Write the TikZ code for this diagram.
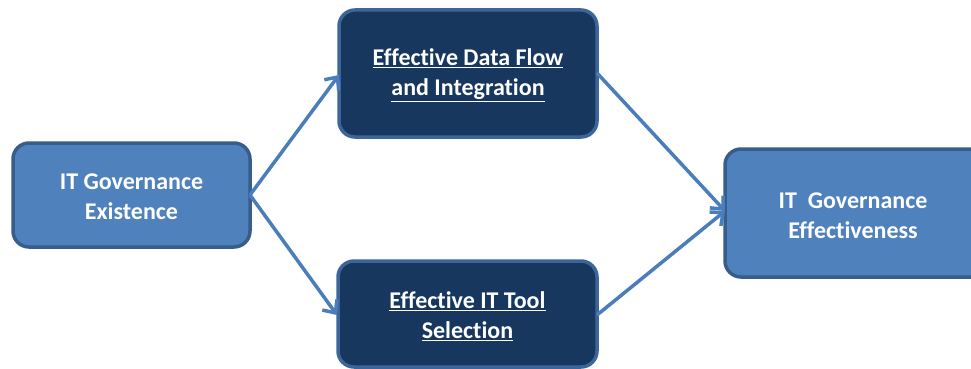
\documentclass[tikz,border=0pt]{standalone}
\usepackage{fontspec}
\setmainfont{Carlito}[Ligatures=NoCommon,RawFeature={-liga}]
\usetikzlibrary{arrows.meta}
\definecolor{lightfill}{HTML}{4F81BD}
\definecolor{lightedge}{HTML}{385D8A}
\definecolor{darkfill}{HTML}{17375E}
\definecolor{darkedge}{HTML}{3C6699}
\definecolor{arrowcol}{HTML}{4A7EBB}
\newcommand{\ul}[1]{\underline{#1}}
\begin{document}
\begin{tikzpicture}[x=1pt,y=-1pt,
  lightbox/.style={draw=lightedge,fill=lightfill,line width=3.5pt,rounded corners=16pt},
  darkbox/.style={draw=darkedge,fill=darkfill,line width=3.5pt,rounded corners=16pt},
  lbl/.style={text=white,font=\bfseries\fontsize{24}{30}\selectfont,align=center},
  conn/.style={draw=arrowcol,line width=3.5pt,-{Straight Barb[length=10pt,width=18pt,line width=3.5pt]}}]
\useasboundingbox (0,0) rectangle (971,369);
\begin{scope}
\clip (0,0) rectangle (971,369);
\draw[lightbox] (13,143) rectangle (250,247);
\draw[darkbox] (339,10) rectangle (597,137);
\draw[darkbox] (338,261) rectangle (597,367);
\draw[lightbox] (725,149) rectangle (990,277);
\end{scope}
\node[lbl] (a) at (131.5,197) {IT Governance\\Existence};
\node[lbl] (b) at (468,75) {\ul{Effective Data Flow}\\\ul{and Integration}};
\node[lbl] (c) at (467.5,316) {\ul{Effective IT Tool}\\\ul{Selection}};
\node[lbl] (d) at (853,216) {IT\ \ Governance\\Effectiveness};
\coordinate (aR) at (250,195);
\coordinate (bL) at (339,75);
\coordinate (cL) at (337,315);
\coordinate (bR) at (597,73);
\coordinate (cR) at (597,315);
\coordinate (dL) at (725,211);
\draw[conn] (aR) -- (bL);
\draw[conn] (aR) -- (cL);
\draw[conn] (bR) -- (dL);
\draw[conn] (cR) -- (dL);
\end{tikzpicture}
\end{document}
